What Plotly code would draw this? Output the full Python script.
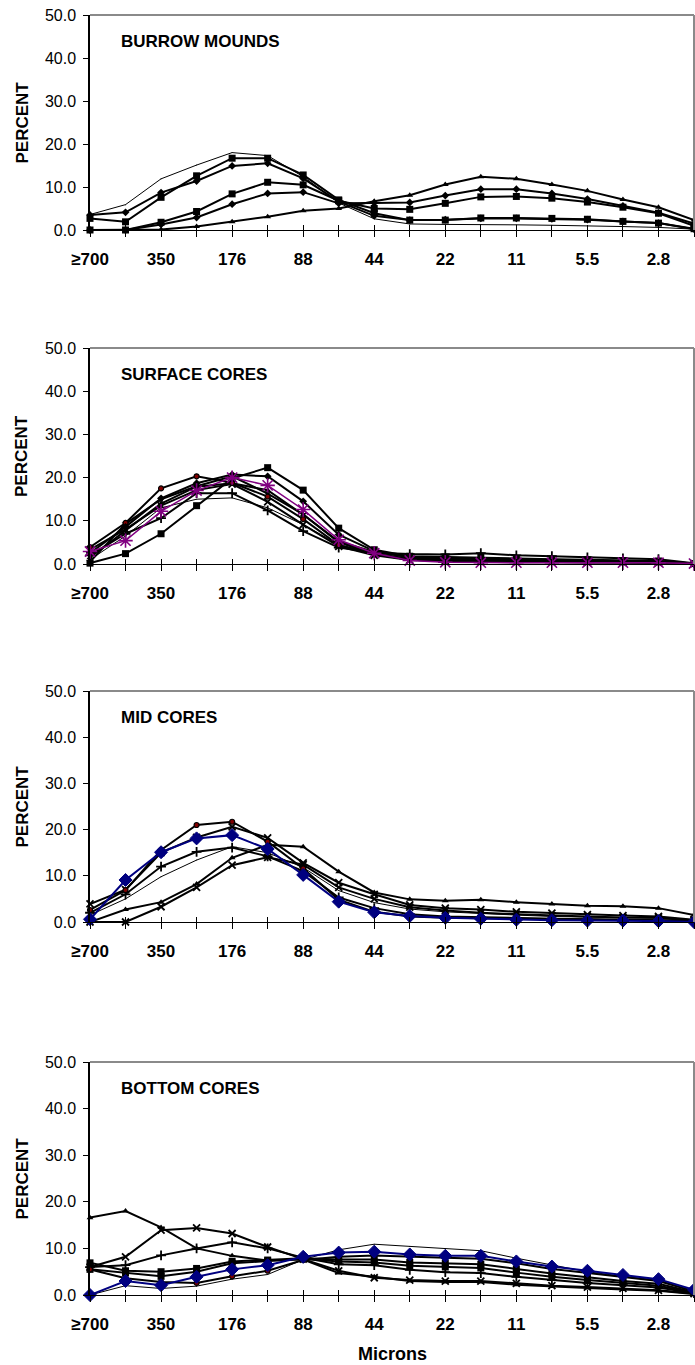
import plotly.graph_objects as go

# Particle-size classes (microns), coarse to fine
CATEGORIES = ["≥700", "500", "350", "250", "176", "125", "88", "62", "44",
              "31", "22", "16", "11", "7.8", "5.5", "3.9", "2.8", "2.0"]
LABEL_EVERY = 2
Y_TICKS = [0, 10, 20, 30, 40, 50]

PANEL_TITLES = ["BURROW MOUNDS", "SURFACE CORES", "MID CORES", "BOTTOM CORES"]

# --- Burrow mounds ---
bm_thin = [3.6, 5.9, 11.9, 15.1, 18.0, 17.3, 12.4, 6.3, 2.6, 1.4, 1.3, 1.3, 1.2, 1.1, 1.0, 0.8, 0.6, 0.2]
bm_sq_a = [2.7, 1.9, 7.6, 12.6, 16.7, 16.7, 12.8, 7.0, 3.9, 2.3, 2.3, 2.8, 2.8, 2.7, 2.5, 2.0, 1.6, 0.3]
bm_sq_b = [0.0, 0.0, 1.8, 4.3, 8.4, 11.1, 10.5, 6.8, 5.0, 4.8, 6.2, 7.7, 7.8, 7.4, 6.5, 5.3, 3.9, 1.0]
bm_tri = [0.0, 0.0, 0.1, 0.8, 1.9, 3.1, 4.5, 5.0, 6.7, 8.1, 10.6, 12.4, 11.9, 10.6, 9.1, 7.1, 5.3, 2.3]
bm_dia_a = [3.5, 4.1, 8.7, 11.4, 14.9, 15.5, 12.0, 6.6, 3.3, 2.3, 2.4, 2.7, 2.7, 2.6, 2.4, 2.0, 1.6, 0.2]
bm_dia_b = [0.0, 0.0, 1.3, 2.9, 6.0, 8.5, 8.8, 6.2, 6.3, 6.4, 8.0, 9.5, 9.5, 8.5, 7.2, 5.6, 4.0, 1.5]

# --- Surface cores ---
sc_sq = [0.2, 2.4, 7.0, 13.5, 19.8, 22.3, 17.1, 8.3, 3.3, 1.8, 1.6, 1.5, 1.3, 1.1, 1.0, 0.8, 0.7, 0.1]
sc_circ_a = [3.9, 9.5, 17.5, 20.3, 18.8, 15.6, 10.4, 4.4, 2.4, 1.2, 1.0, 0.9, 0.7, 0.6, 0.5, 0.4, 0.4, 0.1]
sc_circ_b = [2.5, 8.6, 15.2, 18.7, 20.7, 20.3, 14.5, 6.8, 3.0, 1.5, 1.2, 1.0, 0.8, 0.7, 0.6, 0.5, 0.4, 0.1]
sc_tri = [1.5, 7.7, 14.0, 17.9, 18.7, 17.1, 11.4, 5.2, 2.8, 1.6, 1.4, 1.3, 1.1, 1.0, 0.8, 0.7, 0.6, 0.1]
sc_thin = [1.0, 6.5, 13.0, 15.0, 15.3, 13.0, 9.1, 4.5, 2.2, 1.2, 1.0, 0.9, 0.8, 0.7, 0.6, 0.5, 0.4, 0.1]
sc_plus = [2.0, 7.0, 10.6, 16.4, 16.4, 12.4, 7.6, 3.8, 2.6, 2.3, 2.2, 2.5, 2.0, 1.8, 1.5, 1.3, 1.1, 0.2]
sc_x = [3.3, 8.0, 13.5, 17.1, 18.5, 14.4, 9.1, 4.1, 2.0, 0.9, 0.7, 0.6, 0.5, 0.5, 0.4, 0.4, 0.3, 0.1]
sc_star = [0.5, 9.3, 15.0, 18.0, 20.3, 16.3, 11.5, 5.0, 2.3, 1.0, 0.7, 0.5, 0.4, 0.4, 0.3, 0.3, 0.3, 0.1]
sc_mean = [2.9, 5.4, 12.2, 17.0, 20.0, 18.2, 12.6, 5.6, 2.5, 0.8, 0.4, 0.3, 0.3, 0.3, 0.3, 0.3, 0.3, 0.1]

# --- Mid cores ---
mc_circ = [2.6, 6.9, 15.6, 21.0, 21.7, 17.4, 11.6, 4.8, 2.2, 1.2, 0.9, 0.8, 0.7, 0.6, 0.5, 0.5, 0.4, 0.1]
mc_tri = [0.0, 2.7, 4.3, 8.2, 13.9, 16.7, 16.3, 10.9, 6.4, 4.9, 4.6, 4.8, 4.3, 3.9, 3.5, 3.4, 3.0, 1.5]
mc_x_a = [3.9, 7.0, 15.0, 18.3, 20.6, 18.2, 12.8, 8.5, 6.0, 3.7, 3.0, 2.7, 2.2, 1.9, 1.6, 1.4, 1.2, 0.5]
mc_x_b = [0.0, 0.0, 3.3, 7.5, 12.3, 14.0, 12.4, 7.5, 5.0, 3.2, 2.5, 2.0, 1.7, 1.4, 1.2, 1.0, 0.9, 0.3]
mc_thin = [1.5, 5.0, 9.8, 13.4, 16.3, 15.0, 11.8, 6.8, 4.2, 2.8, 2.2, 1.8, 1.5, 1.2, 1.0, 0.9, 0.8, 0.2]
mc_plus = [2.0, 6.0, 12.0, 15.2, 16.1, 14.2, 11.0, 5.3, 3.0, 1.7, 1.2, 1.0, 0.8, 0.7, 0.6, 0.5, 0.4, 0.1]
mc_mean = [0.6, 9.1, 15.1, 18.1, 18.8, 15.8, 10.2, 4.4, 2.1, 1.3, 0.9, 0.7, 0.5, 0.4, 0.3, 0.3, 0.2, 0.0]

# --- Bottom cores ---
bc_high = [16.6, 18.0, 14.5, 10.0, 8.4, 7.4, 7.6, 4.7, 3.9, 3.0, 2.8, 2.8, 2.2, 1.8, 1.5, 1.2, 0.9, 0.2]
bc_x = [6.0, 8.2, 13.9, 14.4, 13.2, 10.3, 7.7, 5.2, 3.7, 3.2, 3.0, 3.0, 2.5, 2.0, 1.7, 1.4, 1.0, 0.3]
bc_plus = [6.0, 6.4, 8.5, 10.0, 11.3, 10.0, 8.0, 6.6, 6.4, 5.4, 4.9, 4.7, 3.9, 3.2, 2.6, 2.1, 1.6, 0.4]
bc_thin = [0.0, 2.0, 1.4, 1.9, 3.4, 4.4, 7.6, 9.7, 10.9, 10.4, 9.9, 9.5, 7.9, 6.4, 5.0, 4.0, 3.2, 0.8]
bc_circ = [5.5, 3.6, 2.8, 2.6, 4.0, 5.2, 7.5, 8.2, 8.5, 8.2, 8.0, 7.8, 6.8, 5.6, 4.7, 3.8, 3.0, 0.8]
bc_sq_a = [6.9, 5.2, 5.0, 5.7, 7.2, 7.5, 7.9, 7.6, 7.6, 7.0, 6.8, 6.6, 5.6, 4.6, 3.8, 3.0, 2.4, 0.6]
bc_sq_b = [5.5, 4.7, 4.0, 5.0, 6.8, 7.3, 7.8, 7.2, 7.0, 6.3, 6.0, 5.8, 4.8, 3.9, 3.2, 2.6, 2.0, 0.5]
bc_mean = [0.0, 3.0, 2.1, 3.9, 5.5, 6.4, 8.2, 9.1, 9.3, 8.7, 8.4, 8.4, 7.2, 6.1, 5.2, 4.3, 3.4, 1.1]

# ---------------------------------------------------------------- styles
BLACK = "#000000"
PURPLE = "#800080"
NAVY = "#000080"

STYLES = {
    "thin":  dict(line=dict(color=BLACK, width=1), marker=dict(size=1, color=BLACK)),
    "sq":    dict(line=dict(color=BLACK, width=2), marker=dict(symbol="square", size=7, color=BLACK)),
    "dia":   dict(line=dict(color=BLACK, width=2), marker=dict(symbol="diamond", size=6, color=BLACK)),
    "tri":   dict(line=dict(color=BLACK, width=2), marker=dict(symbol="triangle-up", size=6, color=BLACK)),
    "circ":  dict(line=dict(color=BLACK, width=2),
                  marker=dict(symbol="circle", size=5, color="#800000", line=dict(color=BLACK, width=1.2))),
    "x":     dict(line=dict(color=BLACK, width=2),
                  marker=dict(symbol="x-thin-open", size=7, line=dict(color=BLACK, width=1.8))),
    "plus":  dict(line=dict(color=BLACK, width=2),
                  marker=dict(symbol="cross-thin-open", size=7, line=dict(color=BLACK, width=1.8))),
    "star":  dict(line=dict(color=BLACK, width=2), marker=dict(symbol="star", size=6, color=BLACK)),
    "purple": dict(line=dict(color=PURPLE, width=1.5),
                   marker=dict(symbol="asterisk-open", size=12, line=dict(color=PURPLE, width=1.6))),
    "navy":  dict(line=dict(color=NAVY, width=2),
                  marker=dict(symbol="diamond", size=10, color=NAVY, line=dict(color=NAVY, width=1))),
}

PANELS = [
    [(bm_thin, "thin"), (bm_dia_b, "dia"), (bm_sq_b, "sq"), (bm_tri, "tri"),
     (bm_dia_a, "dia"), (bm_sq_a, "sq")],
    [(sc_thin, "thin"), (sc_plus, "plus"), (sc_x, "x"), (sc_tri, "tri"), (sc_star, "star"),
     (sc_circ_a, "circ"), (sc_circ_b, "dia"), (sc_sq, "sq"), (sc_mean, "purple")],
    [(mc_thin, "thin"), (mc_plus, "plus"), (mc_x_b, "x"), (mc_tri, "tri"), (mc_x_a, "x"),
     (mc_circ, "circ"), (mc_mean, "navy")],
    [(bc_thin, "thin"), (bc_high, "tri"), (bc_x, "x"), (bc_plus, "plus"), (bc_sq_b, "sq"),
     (bc_sq_a, "sq"), (bc_circ, "circ"), (bc_mean, "navy")],
]

# ---------------------------------------------------------------- layout geometry (pixels)
W, H = 695, 1365
PLOT_LEFT, PLOT_RIGHT = 90, 694
PANEL_PX = [(15, 230), (348, 564), (691, 922), (1062, 1295)]  # (top, bottom)
FONT = "Liberation Sans, Arial, sans-serif"

positions = list(range(len(CATEGORIES)))
ticktext = [c if i % LABEL_EVERY == 0 else "" for i, c in enumerate(CATEGORIES)]
x_domain = [PLOT_LEFT / W, PLOT_RIGHT / W]


def sfx(n):
    return "" if n == 1 else str(n)


fig = go.Figure()
layout = dict(
    width=W, height=H,
    margin=dict(l=0, r=0, t=0, b=0),
    paper_bgcolor="white", plot_bgcolor="white",
    showlegend=False,
    font=dict(family=FONT, color=BLACK),
)
annotations = []
shapes = []

for k, (series, (top, bottom)) in enumerate(zip(PANELS, PANEL_PX)):
    n = k + 1
    xa, ya = f"x{sfx(n)}", f"y{sfx(n)}"
    for values, style in series:
        st = STYLES[style]
        fig.add_trace(go.Scatter(
            x=positions, y=values, mode="lines+markers",
            xaxis=xa, yaxis=ya, cliponaxis=False, hoverinfo="skip",
            line=st["line"], marker=st["marker"],
        ))
    y_domain = [1 - bottom / H, 1 - top / H]
    layout[f"xaxis{sfx(n)}"] = dict(
        domain=x_domain, anchor=ya, range=[0, len(CATEGORIES) - 1],
        tickmode="array", tickvals=positions, ticktext=ticktext,
        ticks="outside", ticklen=6, tickwidth=1, tickcolor=BLACK,
        ticklabelstandoff=7,
        showline=True, linecolor=BLACK, linewidth=1.3,
        showgrid=False, zeroline=False, automargin=False,
        tickfont=dict(family=FONT, size=17, color=BLACK, weight="bold"),
    )
    # upward half of the crossing tick marks
    layout[f"xaxis{n + 4}"] = dict(
        domain=x_domain, anchor=ya, overlaying=xa, range=[0, len(CATEGORIES) - 1],
        tickmode="array", tickvals=positions, showticklabels=False,
        ticks="inside", ticklen=5, tickwidth=1, tickcolor=BLACK,
        showline=False, showgrid=False, zeroline=False, automargin=False,
    )
    layout[f"yaxis{sfx(n)}"] = dict(
        domain=y_domain, anchor=xa, range=[0, 50],
        tickmode="array", tickvals=Y_TICKS, tickformat=".1f",
        ticks="outside", ticklen=5, tickwidth=1, tickcolor=BLACK,
        ticklabelstandoff=4,
        showline=True, linecolor=BLACK, linewidth=1.5,
        showgrid=False, zeroline=False, automargin=False,
        tickfont=dict(family=FONT, size=16, color=BLACK),
    )
    # grey frame on top and right of the plot area
    for x0, y0, x1, y1 in [(0, 1, 1, 1), (1, 0, 1, 1)]:
        shapes.append(dict(type="line", xref=f"{xa} domain", yref=f"{ya} domain",
                           x0=x0, y0=y0, x1=x1, y1=y1,
                           line=dict(color="#8a8a8a", width=2)))
    annotations.append(dict(
        text=PANEL_TITLES[k], xref="paper", yref="paper",
        x=119 / W, y=1 - (top + 26) / H, xanchor="left", yanchor="middle",
        showarrow=False, font=dict(family=FONT, size=17, color=BLACK, weight="bold"),
    ))
    annotations.append(dict(
        text="PERCENT", xref="paper", yref="paper", textangle=-90,
        x=22 / W, y=1 - (top + bottom) / 2 / H, xanchor="center", yanchor="middle",
        showarrow=False, font=dict(family=FONT, size=17, color=BLACK, weight="bold"),
    ))

# empty traces so the overlay tick axes are drawn
for n in range(5, 9):
    fig.add_trace(go.Scatter(x=[], y=[], xaxis=f"x{n}", yaxis=f"y{sfx(n - 4)}",
                             mode="markers", hoverinfo="skip"))

annotations.append(dict(
    text="Microns", xref="paper", yref="paper",
    x=(PLOT_LEFT + PLOT_RIGHT) / 2 / W, y=1 - 1354 / H, xanchor="center", yanchor="middle",
    showarrow=False, font=dict(family=FONT, size=18, color=BLACK, weight="bold"),
))

layout["annotations"] = annotations
layout["shapes"] = shapes
fig.update_layout(**layout)

fig.write_html("out.html")
